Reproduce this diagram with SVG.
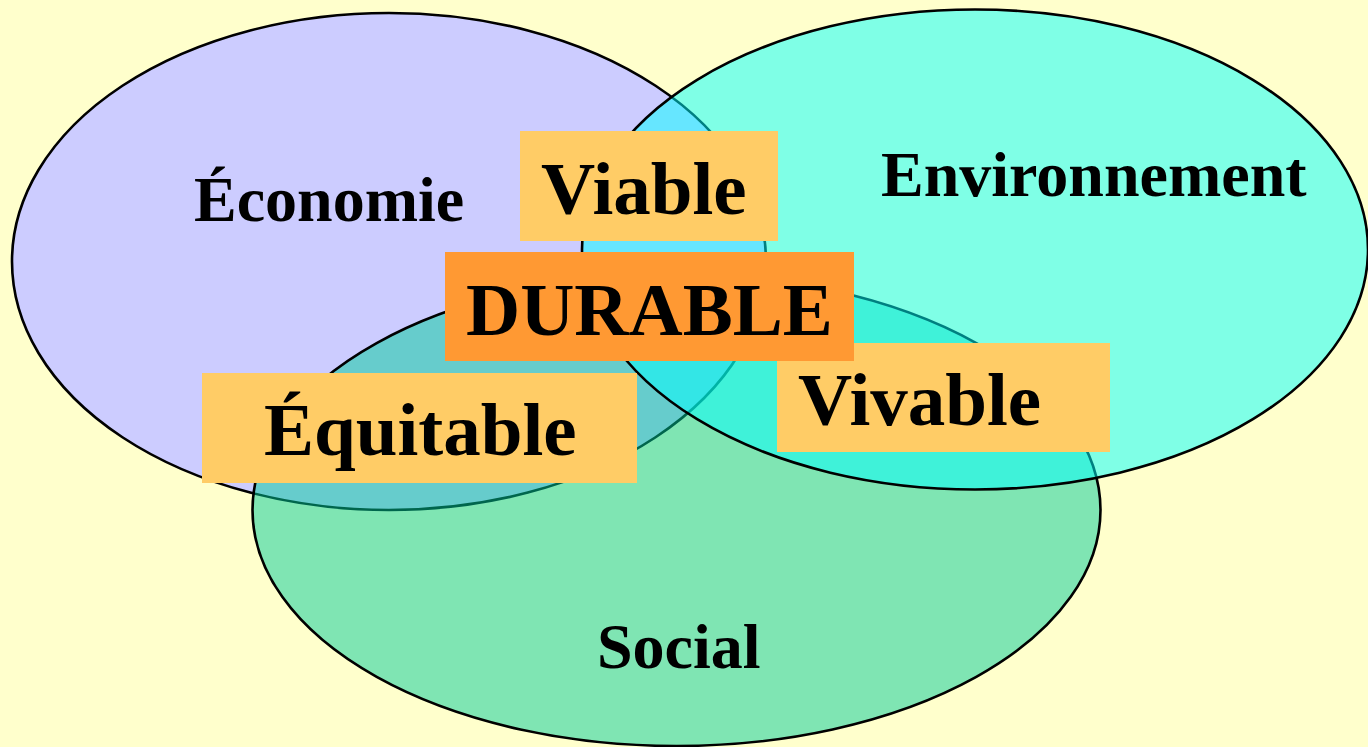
<svg xmlns="http://www.w3.org/2000/svg" width="1368" height="747" viewBox="0 0 1368 747">
  <style>
    .ell { stroke: #000000; stroke-width: 2.6; }
    .lbl { font-family: "Liberation Serif", "Times New Roman", serif; font-weight: bold; fill: #000000; }
    .big { font-size: 75px; }
    .mid { font-size: 64px; }
    .box { fill: #FFCC66; }
    .boxmain { fill: #FF9933; }
  </style>
  <rect x="0" y="0" width="1368" height="747" fill="#FFFFCC"/>
  <g id="economie">
    <ellipse class="ell" cx="389" cy="261.5" rx="377" ry="248.5" fill="#CCCCFF"/>
  </g>
  <g id="social">
    <ellipse class="ell" cx="676.5" cy="510" rx="424" ry="236" fill="#00CC99" fill-opacity="0.5"/>
  </g>
  <g id="environnement">
    <ellipse class="ell" cx="975" cy="249.5" rx="393" ry="240" fill="#00FFFF" fill-opacity="0.5"/>
  </g>
  <g id="labels">
    <text class="lbl mid" x="194" y="221">Économie</text>
    <text class="lbl mid" x="881" y="196">Environnement</text>
    <text class="lbl mid" x="597" y="668">Social</text>
  </g>
  <g id="viable">
    <rect class="box" x="520" y="131" width="258" height="110"/>
    <text class="lbl big" x="541" y="214">Viable</text>
  </g>
  <g id="vivable">
    <rect class="box" x="777" y="343" width="333" height="109"/>
    <text class="lbl big" x="798" y="425">Vivable</text>
  </g>
  <g id="equitable">
    <rect class="box" x="202" y="373" width="435" height="110"/>
    <text class="lbl big" x="264" y="455">Équitable</text>
  </g>
  <g id="durable">
    <rect class="boxmain" x="445" y="252" width="409" height="109"/>
    <text class="lbl big" x="466" y="335">DURABLE</text>
  </g>
  <g id="connectors"/>
</svg>
